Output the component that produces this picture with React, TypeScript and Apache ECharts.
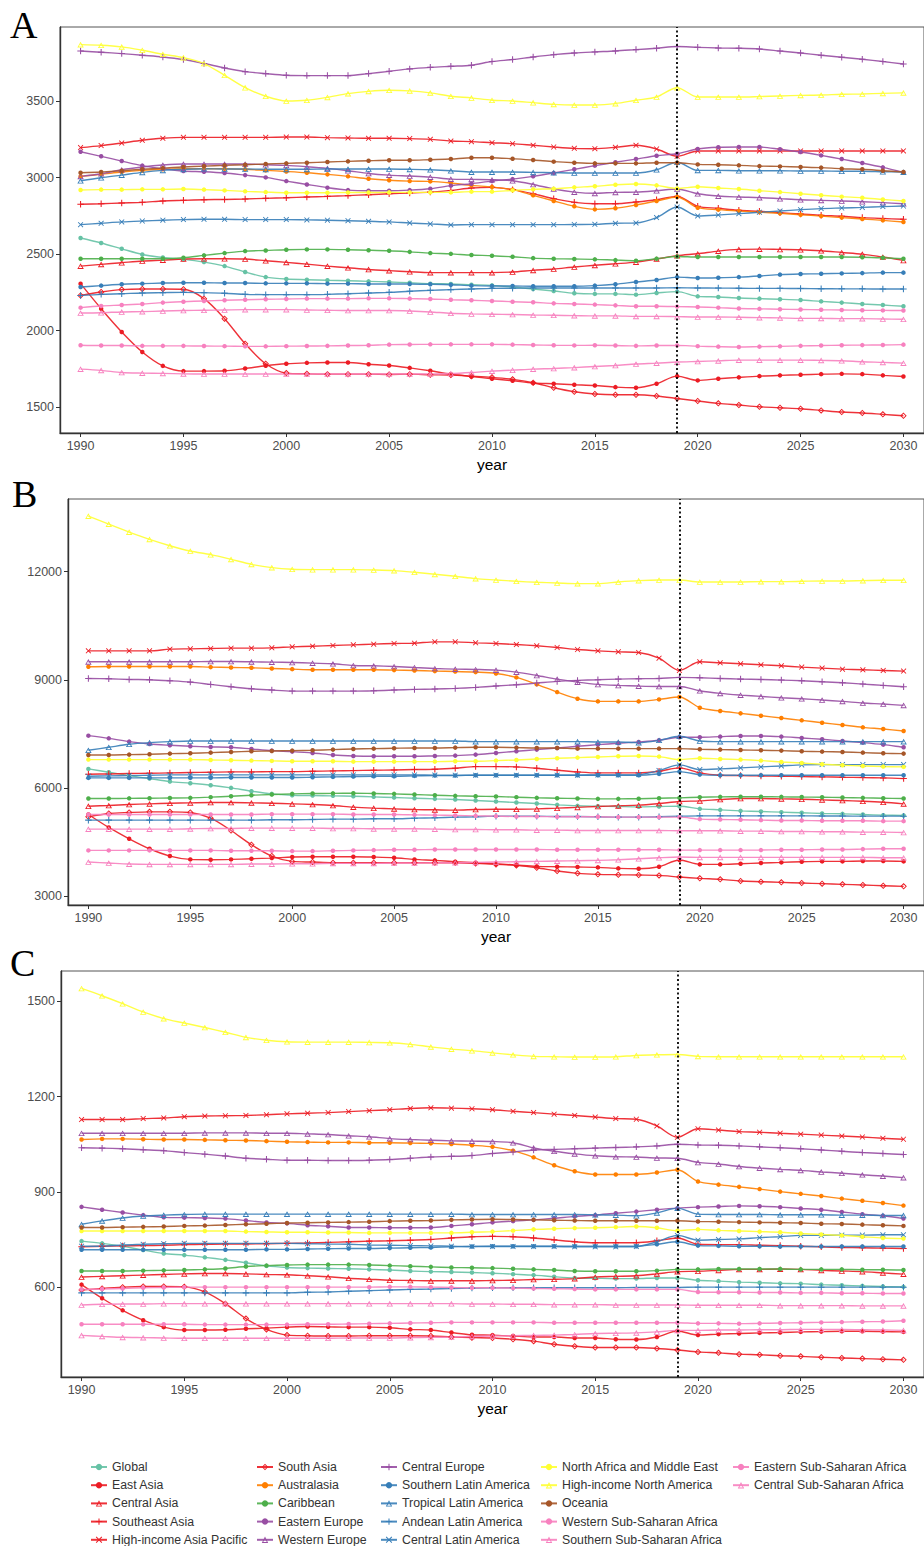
import React, { useEffect, useRef } from "react";
import * as echarts from "echarts";

const years = [1990,1991,1992,1993,1994,1995,1996,1997,1998,1999,2000,2001,2002,2003,2004,2005,2006,2007,2008,2009,2010,2011,2012,2013,2014,2015,2016,2017,2018,2019,2020,2021,2022,2023,2024,2025,2026,2027,2028,2029,2030];
const xTicks = [1990,1995,2000,2005,2010,2015,2020,2025,2030];
const yTicksA = [1500,2000,2500,3000,3500];
const yTicksB = [3000,6000,9000,12000];
const yTicksC = [600,900,1200,1500];
const projectionStartYear = 2019;

const regionNames = [
  "Global","East Asia","Central Asia","Southeast Asia","High-income Asia Pacific",
  "South Asia","Australasia","Caribbean","Eastern Europe","Western Europe",
  "Central Europe","Southern Latin America","Tropical Latin America","Andean Latin America","Central Latin America",
  "North Africa and Middle East","High-income North America","Oceania","Western Sub-Saharan Africa","Southern Sub-Saharan Africa",
  "Eastern Sub-Saharan Africa","Central Sub-Saharan Africa"
];
const RED = "#EC1C24", ORANGE = "#FF7F00", GREEN = "#4DAF4A", PURPLE = "#984EA3", BLUE = "#377EB8", YELLOW = "#FFFF33", BROWN = "#A65628", PINK = "#F781BF";
const regionColors = [
  "#66C2A5", RED, RED, RED, RED,
  RED, ORANGE, GREEN, PURPLE, PURPLE,
  PURPLE, BLUE, BLUE, BLUE, BLUE,
  YELLOW, YELLOW, BROWN, PINK, PINK,
  PINK, PINK
];
const regionShapes = [
  "circle","circle","tri","plus","cross",
  "diamond","circle","circle","circle","tri",
  "plus","circle","tri","plus","cross",
  "circle","tri","circle","circle","tri",
  "circle","tri"
];

// ---------- Panel A ----------
const A_global = [2606,2573,2535,2498,2478,2466,2448,2422,2383,2350, 2337,2333,2329,2326,2322,2318,2313,2307,2305,2300, 2296,2285,2272,2259,2244,2240,2240,2235,2246,2255, 2224,2220,2213,2209,2205,2200,2191,2183,2174,2167,2159];
const A_eastAsia = [2307,2143,1991,1860,1769,1735,1735,1737,1752,1770, 1783,1789,1791,1791,1780,1772,1756,1737,1715,1700, 1685,1672,1657,1652,1646,1641,1630,1626,1652,1702, 1674,1685,1694,1702,1707,1711,1715,1717,1715,1707,1700];
const A_centralAsia = [2422,2433,2444,2455,2461,2468,2470,2470,2468,2457, 2446,2435,2422,2411,2400,2392,2385,2379,2379,2379, 2379,2383,2394,2403,2416,2427,2437,2448,2468,2490, 2503,2520,2531,2533,2531,2529,2522,2511,2500,2481,2459];
const A_seAsia = [2826,2830,2835,2839,2848,2852,2856,2858,2861,2865, 2869,2874,2878,2883,2889,2895,2900,2906,2917,2933, 2937,2922,2895,2863,2839,2830,2830,2841,2856,2878, 2813,2800,2787,2780,2771,2763,2754,2748,2739,2733,2728];
const A_hiAsiaPac = [3197,3210,3227,3245,3258,3264,3264,3264,3264,3264, 3266,3266,3262,3260,3258,3258,3256,3251,3240,3236, 3229,3223,3212,3201,3192,3190,3199,3212,3188,3140, 3175,3175,3175,3175,3175,3175,3175,3175,3175,3175,3175];
const A_southAsia = [2230,2252,2268,2272,2272,2270,2209,2078,1914,1783, 1722,1717,1715,1715,1715,1713,1715,1711,1709,1702, 1694,1681,1659,1626,1600,1585,1580,1580,1572,1556, 1539,1524,1513,1502,1495,1489,1478,1467,1461,1452,1443];
const A_australasia = [3009,3022,3037,3048,3055,3059,3059,3059,3055,3048, 3041,3033,3022,3009,2993,2983,2978,2976,2965,2950, 2939,2922,2885,2848,2813,2793,2800,2822,2848,2874, 2804,2791,2782,2775,2767,2758,2749,2739,2730,2721,2710];
const A_caribbean = [2470,2470,2470,2470,2470,2476,2492,2507,2520,2524, 2529,2531,2531,2529,2526,2522,2515,2507,2502,2494, 2490,2483,2474,2470,2468,2466,2461,2457,2470,2485, 2481,2481,2481,2481,2481,2481,2481,2481,2480,2476,2470];
const A_easternEurope = [3170,3140,3109,3079,3059,3044,3039,3031,3017,3002, 2978,2956,2935,2919,2915,2915,2919,2928,2948,2961, 2978,2991,3009,3031,3055,3079,3101,3122,3144,3157, 3188,3199,3201,3201,3186,3168,3146,3122,3096,3068,3035];
const A_westernEurope = [3009,3026,3052,3070,3083,3090,3090,3090,3090,3085, 3081,3072,3061,3046,3028,3017,3011,3004,2991,2989, 2987,2980,2956,2926,2906,2898,2904,2906,2915,2926, 2895,2880,2874,2870,2863,2856,2852,2848,2843,2837,2830];
const A_centralEurope = [3829,3821,3812,3801,3790,3773,3747,3718,3694,3681, 3670,3668,3668,3668,3681,3696,3712,3722,3729,3736, 3760,3773,3790,3805,3816,3823,3829,3838,3847,3858, 3853,3849,3847,3842,3829,3816,3801,3788,3775,3760,3744];
const A_southernLatAm = [2285,2294,2303,2307,2311,2313,2313,2311,2311,2309, 2309,2309,2307,2307,2305,2305,2305,2303,2300,2294, 2292,2292,2290,2290,2290,2294,2303,2318,2331,2350, 2344,2346,2350,2357,2366,2370,2372,2374,2376,2379,2379];
const A_tropicalLatAm = [2980,3000,3017,3035,3048,3055,3059,3057,3057,3055, 3055,3055,3057,3057,3057,3057,3055,3052,3046,3037, 3037,3037,3035,3033,3031,3031,3031,3031,3052,3101, 3048,3048,3046,3046,3046,3044,3044,3042,3042,3039,3037];
const A_andeanLatAm = [2230,2237,2241,2246,2248,2250,2248,2244,2237,2235, 2235,2235,2237,2241,2246,2250,2257,2263,2268,2272, 2276,2277,2279,2279,2279,2279,2279,2279,2279,2280, 2279,2278,2277,2276,2276,2275,2274,2273,2273,2272,2272];
const A_centralLatAm = [2693,2702,2711,2717,2722,2726,2728,2728,2726,2726, 2726,2724,2722,2719,2715,2711,2704,2698,2691,2693, 2693,2693,2693,2693,2694,2695,2702,2704,2739,2808, 2750,2756,2765,2774,2782,2791,2798,2802,2806,2811,2815];
const A_northAfricaME = [2920,2922,2922,2924,2924,2926,2922,2917,2911,2906, 2902,2902,2902,2903,2903,2904,2904,2904,2904,2909, 2909,2917,2924,2928,2937,2944,2954,2959,2950,2930, 2941,2933,2926,2915,2906,2895,2885,2876,2869,2858,2848];
const A_hiNorthAm = [3871,3867,3856,3834,3808,3786,3747,3670,3589,3533, 3502,3507,3526,3550,3565,3572,3568,3555,3533,3522, 3507,3502,3491,3480,3476,3476,3485,3507,3528,3589, 3528,3528,3528,3531,3535,3539,3541,3546,3548,3552,3555];
const A_oceania = [3033,3037,3046,3055,3063,3070,3076,3081,3085,3090, 3094,3098,3103,3107,3111,3114,3114,3118,3122,3131, 3131,3124,3116,3105,3098,3094,3094,3094,3098,3098, 3087,3085,3081,3076,3074,3070,3066,3059,3055,3046,3037];
const A_westernSSA = [2150,2161,2167,2174,2183,2189,2194,2198,2202,2205, 2207,2209,2209,2209,2211,2211,2209,2207,2202,2198, 2194,2189,2185,2178,2174,2170,2165,2159,2159,2157, 2154,2150,2144,2142,2140,2138,2136,2135,2133,2132,2131];
const A_southernSSA = [2115,2117,2122,2124,2128,2131,2133,2135,2137,2137, 2137,2135,2133,2131,2131,2131,2128,2122,2113,2109, 2107,2105,2102,2100,2098,2096,2096,2093,2093,2091, 2089,2089,2087,2085,2083,2080,2080,2078,2078,2076,2074];
const A_easternSSA = [1904,1902,1902,1900,1900,1900,1899,1898,1897,1897, 1898,1899,1900,1902,1904,1908,1909,1910,1910,1910, 1910,1908,1906,1904,1903,1904,1902,1900,1902,1903, 1898,1895,1893,1895,1897,1900,1902,1904,1905,1906,1908];
const A_centralSSA = [1748,1740,1726,1722,1720,1717,1716,1716,1716,1716, 1716,1716,1716,1716,1716,1716,1716,1716,1719,1726, 1735,1741,1748,1752,1758,1765,1772,1781,1787,1794, 1798,1802,1807,1807,1807,1807,1805,1803,1796,1792,1787];

// ---------- Panel B ----------
const B_global = [6526,6434,6341,6258,6175,6129,6074,6000,5908,5834, 5797,5788,5779,5769,5751,5732,5714,5695,5677,5649, 5622,5594,5566,5529,5502,5492,5483,5474,5483,5492, 5418,5391,5363,5345,5326,5308,5290,5280,5262,5243,5234];
const B_eastAsia = [5262,4902,4588,4311,4108,4015,4006,4015,4034,4052, 4080,4089,4089,4089,4080,4062,4015,3988,3951,3923, 3895,3858,3822,3812,3803,3794,3766,3757,3812,3997, 3877,3877,3895,3914,3932,3951,3960,3960,3969,3969,3960];
const B_centralAsia = [5492,5511,5538,5557,5575,5585,5594,5594,5585,5575, 5557,5538,5511,5465,5437,5418,5400,5391,5382,5400, 5409,5409,5418,5437,5460,5483,5502,5520,5566,5622, 5640,5677,5705,5705,5695,5686,5668,5649,5631,5603,5557];
const B_seAsia = [6378,6387,6397,6406,6415,6425,6434,6443,6443,6452, 6452,6461,6471,6480,6489,6498,6508,6517,6545,6591, 6591,6582,6545,6489,6443,6415,6415,6415,6462,6554, 6415,6351,6341,6332,6323,6314,6305,6295,6286,6277,6258];
const B_hiAsiaPac = [9803,9803,9803,9803,9849,9858,9868,9877,9877,9886, 9914,9932,9951,9969,9988,10006,10015,10052,10052,10025, 10006,9978,9942,9895,9840,9803,9775,9757,9600,9258, 9498,9471,9443,9415,9388,9351,9323,9295,9277,9258,9240];
const B_southAsia = [5197,5289,5317,5335,5335,5317,5160,4818,4422,4108, 3960,3942,3923,3923,3923,3923,3923,3923,3923,3905, 3877,3849,3785,3692,3628,3600,3591,3582,3572,3526, 3489,3462,3415,3397,3378,3360,3342,3323,3305,3286,3268];
const B_australasia = [9360,9369,9369,9369,9369,9369,9351,9342,9332,9314, 9295,9277,9277,9277,9277,9268,9258,9240,9231,9212, 9175,9065,8871,8658,8474,8400,8400,8400,8455,8520, 8225,8132,8068,8003,7938,7874,7809,7745,7680,7634,7578];
const B_caribbean = [5705,5705,5710,5714,5718,5723,5742,5769,5797,5815, 5834,5843,5848,5852,5843,5834,5815,5797,5779,5769, 5760,5742,5723,5714,5705,5695,5695,5700,5714,5723, 5742,5751,5755,5755,5751,5746,5742,5732,5723,5714,5705];
const B_easternEurope = [7449,7375,7283,7218,7182,7154,7135,7126,7080,7034, 7006,6969,6914,6886,6877,6877,6877,6886,6895,6923, 6969,7015,7062,7108,7154,7200,7237,7274,7320,7403, 7403,7422,7440,7440,7422,7385,7348,7302,7255,7200,7126];
const B_westernEurope = [9498,9498,9498,9498,9498,9498,9507,9507,9498,9489, 9480,9461,9443,9397,9388,9369,9341,9314,9295,9286, 9268,9212,9120,9018,8935,8871,8843,8825,8815,8815, 8695,8622,8575,8538,8502,8474,8437,8400,8354,8326,8289];
const B_centralEurope = [9037,9028,9009,9000,8972,8935,8871,8806,8751,8714, 8686,8686,8686,8686,8695,8714,8732,8742,8760,8788, 8825,8862,8908,8954,8982,9000,9018,9028,9037,9065, 9055,9037,9018,9009,8991,8972,8945,8917,8880,8843,8806];
const B_southernLatAm = [6277,6277,6277,6277,6277,6277,6277,6286,6286,6286, 6286,6295,6305,6314,6323,6323,6332,6341,6341,6351, 6351,6351,6351,6351,6351,6351,6351,6351,6388,6452, 6369,6351,6351,6351,6351,6351,6351,6351,6351,6351,6351];
const B_tropicalLatAm = [7043,7126,7209,7255,7283,7302,7302,7302,7302,7302, 7302,7302,7302,7302,7302,7302,7302,7302,7302,7283, 7283,7283,7283,7283,7283,7274,7274,7255,7320,7431, 7302,7283,7283,7283,7283,7283,7283,7283,7283,7283,7283];
const B_andeanLatAm = [5105,5105,5105,5105,5105,5105,5105,5105,5105,5114, 5114,5123,5132,5132,5142,5142,5160,5169,5188,5197, 5215,5215,5215,5206,5206,5197,5188,5188,5197,5215, 5224,5224,5224,5224,5224,5224,5220,5220,5215,5215,5215];
const B_centralLatAm = [6323,6332,6341,6351,6360,6360,6360,6360,6360,6360, 6360,6360,6360,6360,6360,6360,6360,6355,6351,6351, 6351,6351,6351,6351,6351,6360,6360,6369,6480,6637, 6508,6526,6554,6582,6609,6637,6646,6646,6646,6646,6646];
const B_northAfricaME = [6785,6785,6785,6785,6785,6785,6775,6766,6757,6748, 6738,6738,6738,6729,6729,6729,6729,6729,6738,6738, 6757,6775,6803,6822,6840,6858,6877,6886,6868,6785, 6822,6803,6785,6757,6720,6692,6655,6628,6609,6591,6582];
const B_hiNorthAm = [13542,13320,13098,12895,12720,12572,12471,12342,12203,12111, 12065,12055,12055,12055,12046,12028,11982,11926,11871,11806, 11769,11732,11705,11686,11668,11668,11714,11751,11769,11769, 11714,11714,11714,11723,11723,11732,11742,11742,11751,11760,11760];
const B_oceania = [6914,6914,6923,6932,6951,6960,6978,6997,7015,7025, 7034,7043,7062,7080,7089,7099,7108,7108,7117,7126, 7126,7117,7108,7108,7089,7089,7089,7089,7089,7089, 7071,7062,7052,7043,7034,7015,7006,6997,6978,6960,6951];
const B_westernSSA = [5262,5262,5262,5262,5262,5262,5262,5262,5262,5271, 5271,5271,5271,5262,5262,5262,5252,5243,5234,5224, 5215,5206,5206,5197,5197,5197,5188,5188,5188,5188, 5132,5123,5114,5105,5095,5095,5086,5086,5086,5077,5077];
const B_southernSSA = [4855,4855,4855,4855,4855,4864,4874,4874,4883,4883, 4883,4883,4874,4874,4864,4864,4864,4855,4846,4846, 4837,4837,4827,4827,4818,4818,4818,4818,4818,4809, 4809,4809,4800,4800,4790,4790,4781,4781,4772,4772,4763];
const B_easternSSA = [4265,4265,4265,4265,4265,4265,4265,4255,4255,4255, 4246,4246,4255,4265,4274,4283,4283,4292,4292,4292, 4292,4292,4292,4283,4283,4283,4283,4283,4283,4274, 4274,4274,4274,4274,4283,4283,4292,4292,4301,4311,4311];
const B_centralSSA = [3942,3914,3886,3877,3877,3877,3877,3877,3886,3886, 3895,3895,3905,3905,3905,3914,3914,3923,3923,3932, 3942,3951,3960,3969,3979,3988,4006,4034,4062,4080, 4071,4071,4071,4071,4071,4071,4071,4071,4071,4062,4062];

// ---------- Panel C ----------
const C_global = [745,738,729,717,706,701,694,686,677,667, 662,660,659,658,656,654,651,649,648,646, 644,641,638,633,629,628,627,627,629,629, 622,619,616,614,612,611,608,606,604,602,601];
const C_eastAsia = [608,565,527,496,474,465,465,466,469,471, 474,476,475,474,474,472,467,465,457,450, 449,446,443,443,440,440,436,435,443,462, 449,452,454,456,457,459,460,461,461,460,459];
const C_centralAsia = [632,634,636,638,640,642,643,643,642,640, 639,636,633,628,625,622,621,620,620,620, 621,622,624,625,627,632,634,636,642,649, 650,653,656,656,657,656,653,651,649,645,641];
const C_seAsia = [727,729,730,731,732,734,735,736,736,737, 738,739,741,743,745,746,748,750,755,759, 760,759,755,749,743,740,740,740,746,755, 735,734,734,732,731,729,727,725,724,723,722];
const C_hiAsiaPac = [1128,1128,1128,1131,1133,1137,1139,1140,1141,1143, 1146,1148,1150,1153,1156,1159,1163,1165,1164,1162, 1159,1154,1150,1145,1141,1136,1131,1129,1108,1072, 1099,1095,1090,1088,1085,1082,1079,1076,1073,1069,1066];
const C_southAsia = [591,596,600,602,602,601,585,548,501,467, 449,447,446,446,447,447,447,446,443,441, 440,436,430,420,414,410,410,410,407,402, 396,393,389,387,384,382,379,377,375,373,371];
const C_australasia = [1065,1067,1067,1066,1065,1065,1064,1063,1062,1060, 1058,1057,1056,1056,1055,1055,1054,1053,1051,1047, 1042,1030,1009,984,965,955,955,955,961,970, 933,923,916,909,901,894,887,879,872,865,857];
const C_caribbean = [651,651,651,652,653,654,656,659,665,668, 670,671,671,671,670,668,666,664,662,661, 660,658,656,654,651,650,650,650,652,656, 656,657,657,657,657,656,656,656,655,655,654];
const C_easternEurope = [853,844,835,827,820,819,818,816,810,804, 801,795,792,788,788,787,787,788,793,798, 804,808,812,817,823,827,833,838,844,849, 852,854,856,855,852,848,844,837,830,825,816];
const C_westernEurope = [1085,1085,1085,1085,1085,1085,1086,1086,1086,1085, 1085,1083,1081,1077,1074,1068,1065,1063,1061,1060, 1059,1055,1039,1028,1020,1014,1011,1010,1007,1006, 993,988,980,975,971,968,963,959,954,950,945];
const C_centralEurope = [1039,1038,1036,1033,1030,1024,1019,1013,1006,1003, 1000,1000,999,999,1000,1002,1006,1010,1012,1015, 1021,1026,1032,1034,1036,1038,1040,1042,1045,1050, 1048,1047,1045,1042,1039,1036,1032,1028,1024,1021,1018];
const C_southernLatAm = [718,718,718,718,718,718,718,718,718,719, 719,720,721,722,722,723,724,725,727,728, 729,729,729,729,729,729,729,729,735,743, 731,730,729,729,728,728,728,728,728,728,728];
const C_tropicalLatAm = [798,809,818,824,827,829,830,830,830,830, 830,830,830,830,830,830,830,830,830,829, 829,829,829,829,829,828,827,825,834,849, 830,829,829,829,828,828,828,827,827,826,826];
const C_andeanLatAm = [582,582,582,582,582,582,582,582,582,582, 582,584,585,587,589,591,593,594,596,597, 598,598,598,598,598,598,598,599,599,599, 600,600,600,600,600,600,600,600,600,600,600];
const C_centralLatAm = [729,729,733,735,737,738,738,738,738,738, 738,737,736,735,733,732,731,730,729,728, 728,728,728,728,727,727,727,728,743,763, 748,750,752,756,759,763,763,764,764,765,765];
const C_northAfricaME = [777,777,777,777,777,777,777,777,775,774, 773,773,772,772,771,771,771,771,771,773, 775,778,782,784,786,787,789,791,787,778, 782,779,777,775,773,769,766,763,759,755,753];
const C_hiNorthAm = [1541,1518,1493,1467,1446,1432,1418,1403,1387,1378, 1373,1372,1372,1372,1371,1370,1365,1357,1350,1345, 1338,1332,1327,1326,1325,1325,1326,1330,1332,1333, 1327,1326,1326,1326,1326,1326,1326,1326,1326,1326,1326];
const C_oceania = [788,788,789,790,791,793,794,796,798,800, 802,803,804,805,806,808,809,810,812,813, 814,813,812,811,810,809,809,809,809,809, 807,806,805,804,803,802,800,799,797,795,793];
const C_westernSSA = [593,594,596,598,599,600,600,600,600,600, 600,600,600,600,600,601,601,600,599,598, 598,597,596,595,594,593,593,593,593,593, 585,584,584,583,583,582,582,581,581,580,580];
const C_southernSSA = [544,546,547,547,548,548,548,548,548,548, 548,548,548,548,548,548,548,548,548,547, 547,546,546,545,545,545,544,544,544,544, 543,543,543,543,542,542,542,542,541,541,541];
const C_easternSSA = [483,483,483,483,483,483,482,482,482,482, 482,483,483,484,485,486,487,488,489,489, 489,489,489,488,488,488,488,488,488,488, 486,486,485,486,487,488,489,490,491,492,494];
const C_centralSSA = [448,445,442,441,440,439,439,439,439,439, 439,439,439,440,440,440,441,442,443,445, 446,447,448,449,451,454,455,456,459,464, 464,465,465,466,466,467,467,467,466,465,464];

const panelA = [A_global,A_eastAsia,A_centralAsia,A_seAsia,A_hiAsiaPac,A_southAsia,A_australasia,A_caribbean,A_easternEurope,A_westernEurope,A_centralEurope,A_southernLatAm,A_tropicalLatAm,A_andeanLatAm,A_centralLatAm,A_northAfricaME,A_hiNorthAm,A_oceania,A_westernSSA,A_southernSSA,A_easternSSA,A_centralSSA];
const panelB = [B_global,B_eastAsia,B_centralAsia,B_seAsia,B_hiAsiaPac,B_southAsia,B_australasia,B_caribbean,B_easternEurope,B_westernEurope,B_centralEurope,B_southernLatAm,B_tropicalLatAm,B_andeanLatAm,B_centralLatAm,B_northAfricaME,B_hiNorthAm,B_oceania,B_westernSSA,B_southernSSA,B_easternSSA,B_centralSSA];
const panelC = [C_global,C_eastAsia,C_centralAsia,C_seAsia,C_hiAsiaPac,C_southAsia,C_australasia,C_caribbean,C_easternEurope,C_westernEurope,C_centralEurope,C_southernLatAm,C_tropicalLatAm,C_andeanLatAm,C_centralLatAm,C_northAfricaME,C_hiNorthAm,C_oceania,C_westernSSA,C_southernSSA,C_easternSSA,C_centralSSA];

const SYMBOLS: Record<string, string> = {
  circle: "circle",
  tri: "path://M0,0L10,17.32L-10,17.32ZM0,5.2L-5.5,14.7L5.5,14.7Z",
  plus: "path://M-1.6,-10L1.6,-10L1.6,-1.6L10,-1.6L10,1.6L1.6,1.6L1.6,10L-1.6,10L-1.6,1.6L-10,1.6L-10,-1.6L-1.6,-1.6Z",
  cross: "path://M-10,-7.8L-7.8,-10L0,-2.2L7.8,-10L10,-7.8L2.2,0L10,7.8L7.8,10L0,2.2L-7.8,10L-10,7.8L-2.2,0Z",
  diamond: "path://M0,-10L10,0L0,10L-10,0ZM0,-6L-6,0L0,6L6,0Z",
};
const SYMBOL_SIZE: Record<string, number> = { circle: 4.5, tri: 6.5, plus: 6.5, cross: 5.5, diamond: 6.5 };

const FONT = "'Liberation Sans', Arial, sans-serif";

export default function App() {
  const ref = useRef<HTMLDivElement>(null);
  useEffect(() => {
    document.body.style.margin = "0";
    if (!ref.current) return;
    const chart = echarts.init(ref.current, undefined, { renderer: "svg" });

    const grids = [
      { left: 60, top: 27, width: 864, height: 406 },
      { left: 68, top: 499, width: 856, height: 406 },
      { left: 61, top: 971, width: 863, height: 406 },
    ];
    const yRanges = [
      { min: 1330, max: 3986, ticks: yTicksA },
      { min: 2750, max: 14016, ticks: yTicksB },
      { min: 317, max: 1596, ticks: yTicksC },
    ];
    const panels = [panelA, panelB, panelC];

    const series: any[] = [];
    panels.forEach((panel, p) => {
      panel.forEach((vals, i) => {
        const shape = regionShapes[i];
        const s: any = {
          type: "line",
          name: regionNames[i],
          xAxisIndex: p,
          yAxisIndex: p,
          data: years.map((yr, k) => [yr, vals[k]]),
          smooth: 0.3,
          symbol: SYMBOLS[shape],
          symbolSize: SYMBOL_SIZE[shape],
          symbolKeepAspect: true,
          showSymbol: true,
          color: regionColors[i],
          lineStyle: { width: 1.4, color: regionColors[i], opacity: 0.9 },
          itemStyle: { color: regionColors[i] },
          emphasis: { disabled: true },
        };
        if (i === 0) {
          s.markLine = {
            silent: true,
            symbol: "none",
            label: { show: false },
            lineStyle: { type: [2, 2.5], color: "#000", width: 1.8 },
            data: [{ xAxis: projectionStartYear }],
          };
        }
        series.push(s);
      });
    });

    const legendCols = [
      { left: 90, names: regionNames.slice(0, 5) },
      { left: 256, names: regionNames.slice(5, 10) },
      { left: 380, names: regionNames.slice(10, 15) },
      { left: 540, names: regionNames.slice(15, 20) },
      { left: 732, names: regionNames.slice(20, 22) },
    ];
    const plain = (v: number) => String(v);

    chart.setOption({
      animation: false,
      backgroundColor: "#fff",
      grid: grids.map((g) => ({ ...g, show: true, borderColor: "#555", borderWidth: 1, backgroundColor: "transparent" })),
      xAxis: grids.map((_, p) => ({
        type: "value",
        gridIndex: p,
        min: 1989,
        max: 2031,
        axisLine: { show: true, onZero: false, lineStyle: { color: "#333", width: 1.4 } },
        axisTick: { show: true, length: 4, customValues: xTicks, lineStyle: { color: "#333" } },
        axisLabel: { customValues: xTicks, formatter: plain, color: "#4D4D4D", fontSize: 12.5, margin: 6, fontFamily: FONT },
        splitLine: { show: false },
        name: "year",
        nameLocation: "middle",
        nameGap: 23,
        nameTextStyle: { color: "#000", fontSize: 15.5, fontFamily: FONT },
      })),
      yAxis: yRanges.map((r, p) => ({
        type: "value",
        gridIndex: p,
        min: r.min,
        max: r.max,
        axisLine: { show: true, onZero: false, lineStyle: { color: "#333", width: 1.4 } },
        axisTick: { show: true, length: 4, customValues: r.ticks, lineStyle: { color: "#333" } },
        axisLabel: { customValues: r.ticks, formatter: plain, color: "#4D4D4D", fontSize: 12.5, margin: 6, fontFamily: FONT },
        splitLine: { show: false },
      })),
      legend: legendCols.map((c) => ({
        orient: "vertical",
        left: c.left,
        top: 1461,
        height: 120,
        padding: 0,
        itemWidth: 16,
        itemHeight: 8,
        itemGap: 6.2,
        selectedMode: false,
        data: c.names,
        textStyle: { color: "#333", fontSize: 12.3, fontFamily: FONT, lineHeight: 12 },
      })),
      graphic: [
        { type: "text", x: 10, y: 24.5, style: { text: "A", fontFamily: "'Liberation Serif', 'Times New Roman', serif", fontSize: 38, fill: "#000", verticalAlign: "middle", align: "left" } },
        { type: "text", x: 12, y: 493.5, style: { text: "B", fontFamily: "'Liberation Serif', 'Times New Roman', serif", fontSize: 38, fill: "#000", verticalAlign: "middle", align: "left" } },
        { type: "text", x: 10, y: 963, style: { text: "C", fontFamily: "'Liberation Serif', 'Times New Roman', serif", fontSize: 38, fill: "#000", verticalAlign: "middle", align: "left" } },
      ],
      series,
    });

    return () => chart.dispose();
  }, []);
  return <div ref={ref} style={{ width: 924, height: 1546 }} />;
}
